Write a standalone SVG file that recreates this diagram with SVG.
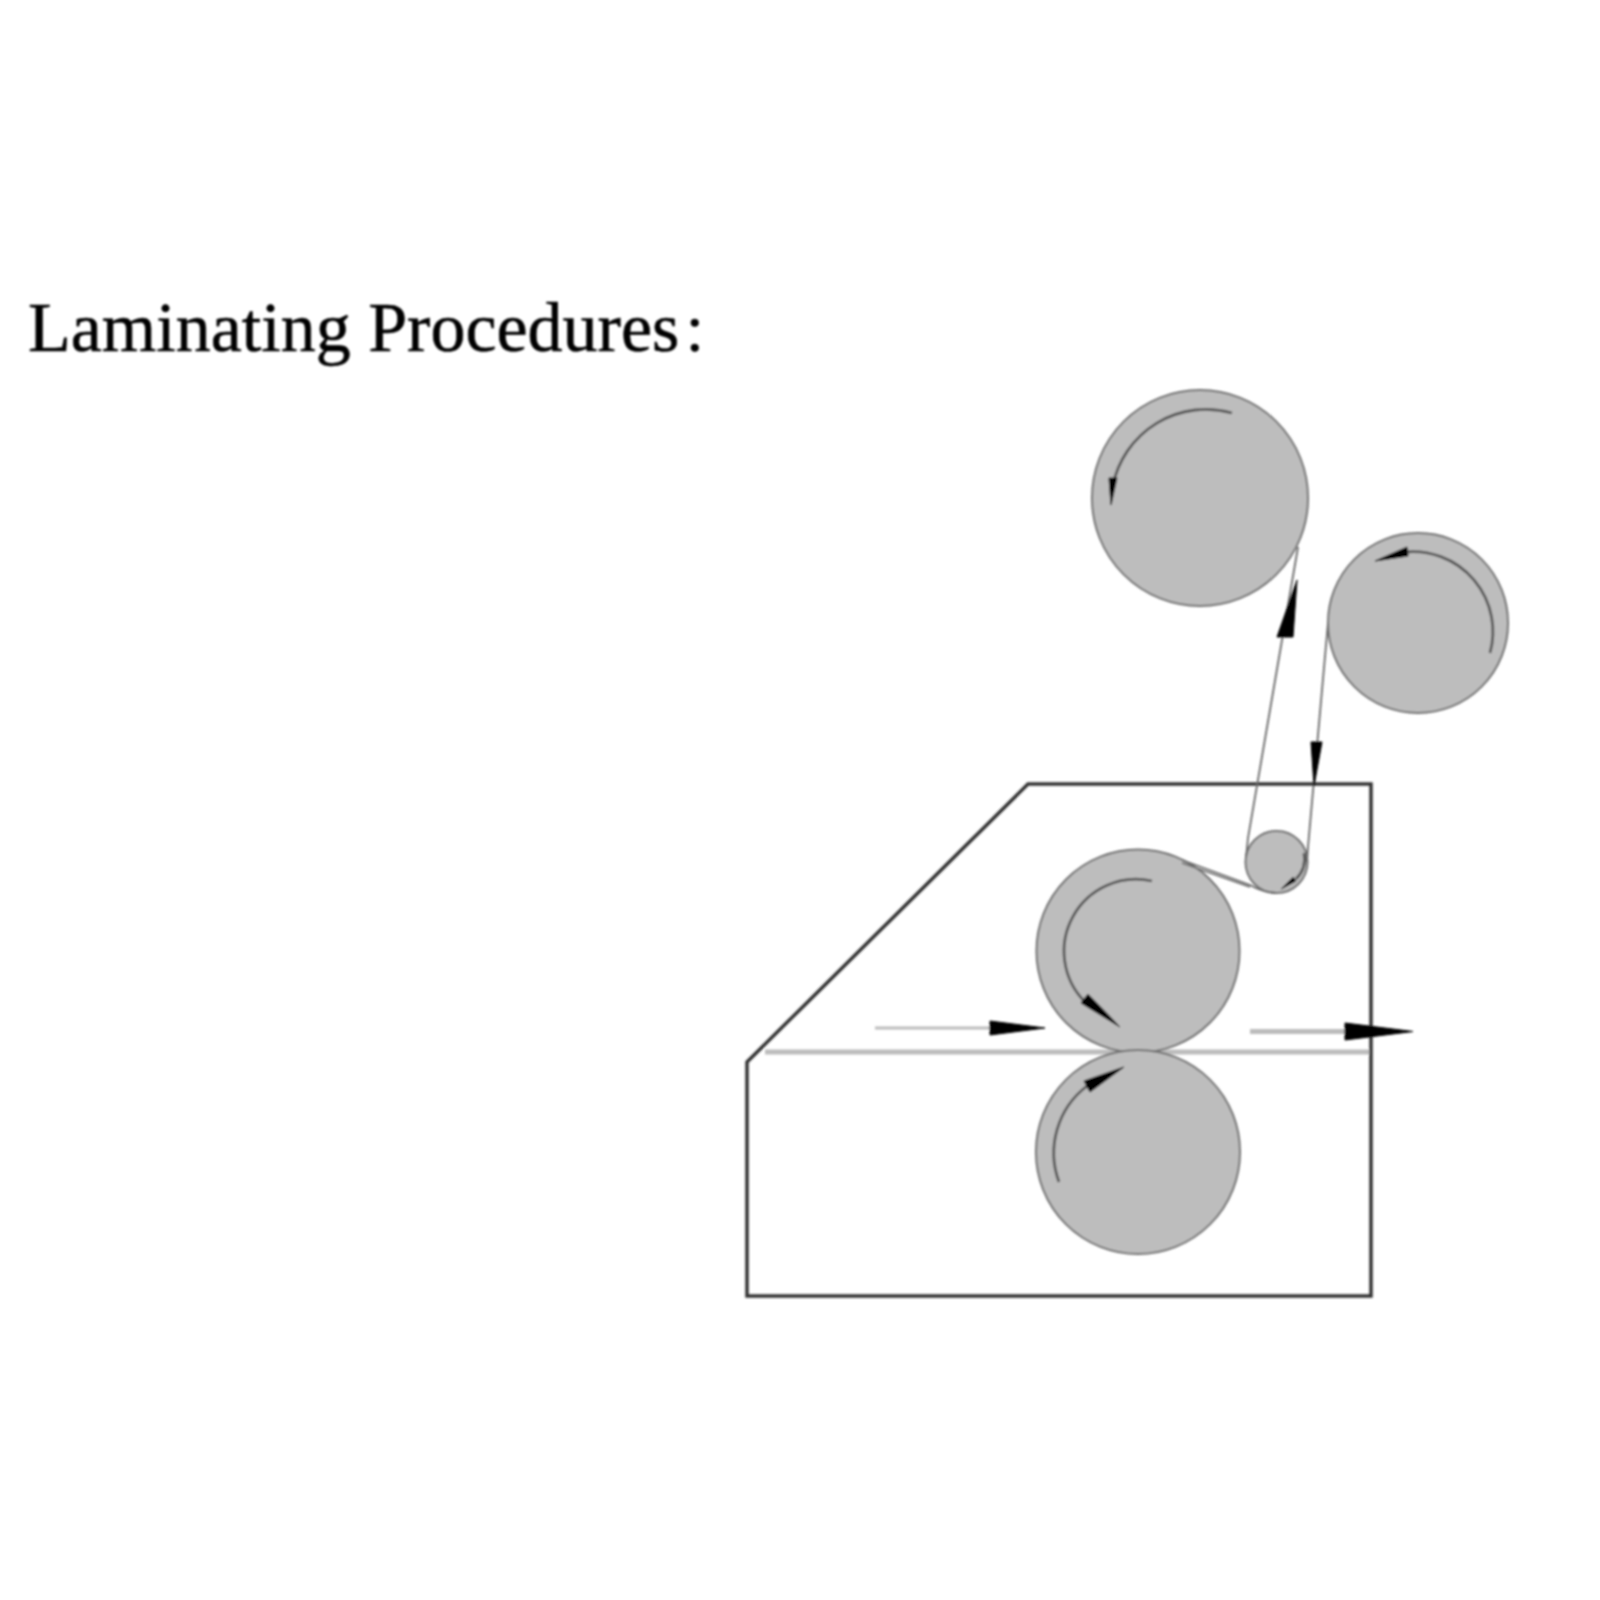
<svg xmlns="http://www.w3.org/2000/svg" width="1600" height="1600" viewBox="0 0 1600 1600">
<style>
.roller{fill:#bdbdbd;stroke:#6e6e6e;stroke-width:2}
.frame{fill:none;stroke:#333;stroke-width:3.500;stroke-linejoin:miter}
.belt{fill:none;stroke:#666;stroke-width:1.800}
.arc{fill:none;stroke:#555;stroke-width:2.800}
.sheet{fill:none;stroke:#bcbcbc;stroke-width:5}
.head{fill:#000;stroke:#000;stroke-width:1;stroke-linejoin:round}
.title{font-family:"Liberation Serif","Noto Sans CJK SC",serif;font-size:70px;fill:#000;stroke:#000;stroke-width:0.600}
</style>
<defs><filter id="soft" x="-5%" y="-5%" width="110%" height="110%"><feGaussianBlur stdDeviation="0.9"/></filter></defs>
<rect width="1600" height="1600" fill="#fff"/>
<g filter="url(#soft)">
<text class="title" x="28" y="351">Laminating Procedures<tspan dx="3" font-size="50">：</tspan></text>
<g id="frame"><path class="frame" d="M1371 784H1028L747 1062V1296H1371Z"/></g>
<g id="sheet"><path class="sheet" d="M765 1052H1369"/></g>
<g id="roller-top"><circle class="roller" cx="1200" cy="498" r="108"/><path class="arc" d="M1232 413A95 95 0 0 0 1113 485"/><path class="head" d="M1109 478L1117 478L1111 505Z"/></g>
<g id="roller-right"><circle class="roller" cx="1418" cy="623" r="90"/><path class="arc" d="M1490 653A80 80 0 0 0 1405 552"/><path class="head" d="M1407 547L1408 556L1375 561Z"/></g>
<g id="roller-small"><circle class="roller" cx="1276.500" cy="862" r="31"/><path class="arc" d="M1304 853A29 29 0 0 1 1296 879"/><path class="head" d="M1293 877L1296 881L1281 889Z"/></g>
<g id="roller-upper"><circle class="roller" cx="1138" cy="951" r="101.500"/><path class="arc" d="M1152 881A72 72 0 0 0 1085 1002"/><path class="head" d="M1088 994L1081 1003L1120 1027Z"/></g>
<g id="roller-lower"><circle class="roller" cx="1138" cy="1152" r="102"/><path class="arc" d="M1059 1182A84 84 0 0 1 1087 1086"/><path class="head" d="M1084 1081L1090 1092L1124 1067Z"/></g>
<g id="connectors">
<path class="belt" d="M1298 547L1248 838L1246 858"/>
<path class="belt" d="M1328 623L1308 847L1307 862"/>
<path class="belt" d="M1182 860L1250 885Q1262 892 1276 893"/>
<path class="belt" d="M1182 863L1250 887"/>
<path class="head" d="M1297 580L1277 637L1293 637Z"/>
<path class="head" d="M1311 742L1322 742L1314 786Z"/>
<path class="sheet" d="M875 1028H990" style="stroke-width:3"/>
<path class="head" d="M990 1021L1045 1028L990 1035Z"/>
<path class="sheet" d="M1250 1031.500H1345"/>
<path class="head" d="M1345 1023L1413 1031.500L1345 1040Z"/>
</g>
</g>
</svg>
